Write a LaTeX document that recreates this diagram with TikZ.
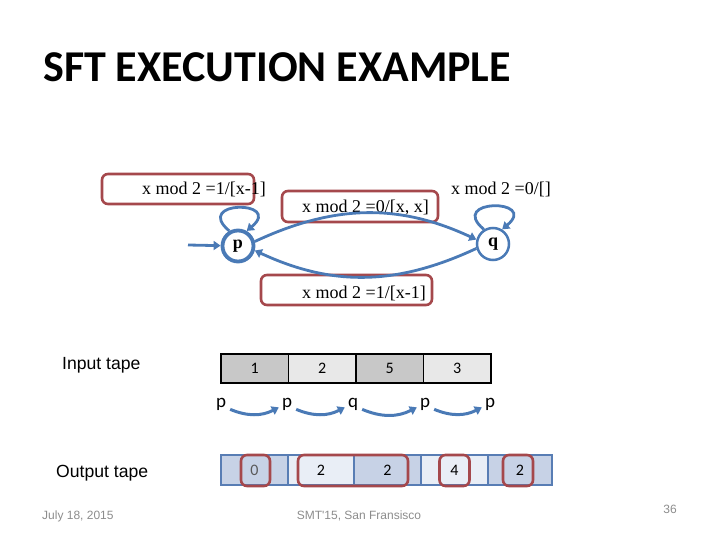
\documentclass[tikz,border=0pt]{standalone}
\usepackage{fontspec}
\setmainfont{Liberation Serif}
\newfontfamily\calib{Carlito}
\newfontfamily\arialf{Liberation Sans}
\usetikzlibrary{arrows.meta}
\definecolor{tblue}{RGB}{74,122,182}
\definecolor{tred}{RGB}{165,72,76}
\definecolor{gdark}{RGB}{200,200,200}
\definecolor{glight}{RGB}{232,232,232}
\definecolor{bdark}{RGB}{199,210,230}
\definecolor{blight}{RGB}{233,238,246}
\definecolor{bborder}{RGB}{88,125,180}
\definecolor{footgray}{RGB}{140,140,140}
\tikzset{
  redbox/.style={draw=tred, line width=2.6pt, rounded corners=6pt, inner sep=0pt},
  lbl/.style={anchor=base west, inner sep=0pt, font=\fontsize{18}{20}\selectfont},
  state/.style={circle, draw=tblue, line width=2.5pt, minimum size=31pt, inner sep=0pt, font=\bfseries\fontsize{18}{20}\selectfont},
  edge/.style={draw=tblue, line width=2.8pt, -{Triangle[width=9pt,length=7pt]}},
  incell/.style={draw=black, line width=1.4pt, minimum width=67.5pt, minimum height=29pt, inner sep=0pt, font=\calib\fontsize{16}{18}\selectfont},
  outcell/.style={draw=bborder, line width=1.6pt, minimum height=30pt, inner sep=0pt, font=\calib\fontsize{16}{18}\selectfont},
  stl/.style={inner sep=1pt, font=\calib\fontsize{19}{21}\selectfont},
  tarrow/.style={draw=tblue, line width=3pt, -{Triangle[width=9pt,length=7pt]}},
  side/.style={anchor=base west, inner sep=0pt, font=\arialf\fontsize{17.6}{20}\selectfont},
  foot/.style={inner sep=0pt, text=footgray, font=\arialf\fontsize{12}{14}\selectfont}
}
\begin{document}
\begin{tikzpicture}[x=1pt,y=1pt]
\useasboundingbox (0,0) rectangle (720,-540);
% title
\node[anchor=base west, inner sep=0pt, font=\calib\bfseries\fontsize{44}{48}\selectfont] (title) at (43,-82) {SFT EXECUTION EXAMPLE};
% label boxes
\node[redbox, minimum width=152pt, minimum height=30pt] (b1) at (178,-189) {};
\node[redbox, minimum width=156pt, minimum height=31pt] (b2) at (360,-206.5) {};
\node[redbox, minimum width=171pt, minimum height=30pt] (b3) at (346.5,-290) {};
\node[lbl] (l1) at (142,-195) {x mod 2 =1/[x-1]};
\node[lbl] (l2) at (302,-213) {x mod 2 =0/[x, x]};
\node[lbl] (l3) at (302,-298) {x mod 2 =1/[x-1]};
\node[lbl] (l4) at (451,-195) {x mod 2 =0/[]};
% states
\node[state, line width=3.8pt, minimum size=31pt] (p) at (238,-246) {p};
\node[state, minimum size=32pt] (q) at (493,-244) {q};
\coordinate (init) at (188,-245);
\draw[edge] (init) -- (p);
\draw[edge] (p.15) to[out=25,in=155] (q.165);
\draw[edge] (q.195) to[out=205,in=335] (p.345);
\draw[edge] (p.120) .. controls +(140:48) and +(40:48) .. (p.60);
\draw[edge] (q.122) .. controls +(140:48) and +(40:48) .. (q.58);
% input tape
\node[side] (intape) at (62,-369) {Input tape};
\node[incell, fill=gdark] (i1) at (254.75,-368.5) {1};
\node[incell, fill=glight] (i2) at (322.25,-368.5) {2};
\node[incell, fill=gdark] (i3) at (389.75,-368.5) {5};
\node[incell, fill=glight] (i4) at (457.25,-368.5) {3};
% state sequence
\node[stl] (s1) at (221,-404) {p};
\node[stl] (s2) at (287,-404) {p};
\node[stl] (s3) at (353,-404) {q};
\node[stl] (s4) at (425,-404) {p};
\node[stl] (s5) at (490,-404) {p};
\draw[tarrow] ([xshift=3pt,yshift=2pt]s1.south east) to[bend right=25] ([xshift=-2pt,yshift=4pt]s2.south west);
\draw[tarrow] ([xshift=3pt,yshift=2pt]s2.south east) to[bend right=25] ([xshift=-2pt,yshift=4pt]s3.south west);
\draw[tarrow] ([xshift=3pt,yshift=2pt]s3.south east) to[bend right=25] ([xshift=-2pt,yshift=4pt]s4.south west);
\draw[tarrow] ([xshift=3pt,yshift=2pt]s4.south east) to[bend right=25] ([xshift=-2pt,yshift=4pt]s5.south west);
% output tape
\node[side] (outtape) at (56,-477) {Output tape};
\node[outcell, fill=bdark, minimum width=67pt] (o1) at (254.5,-470) {\textcolor{black!65}{0}};
\node[outcell, fill=blight, minimum width=66pt] (o2) at (321,-470) {2};
\node[outcell, fill=bdark, minimum width=67pt] (o3) at (387.5,-470) {2};
\node[outcell, fill=blight, minimum width=67pt] (o4) at (454.5,-470) {4};
\node[outcell, fill=bdark, minimum width=64pt] (o5) at (520,-470) {2};
\node[redbox, minimum width=29pt, minimum height=31pt] (r1) at (255.5,-470.5) {};
\node[redbox, minimum width=110pt, minimum height=31pt] (r2) at (353,-470.5) {};
\node[redbox, minimum width=30pt, minimum height=31pt] (r3) at (454.5,-470.5) {};
\node[redbox, minimum width=30pt, minimum height=31pt] (r4) at (518,-470.5) {};
% footer
\node[foot, anchor=base west] (date) at (42,-519) {July 18, 2015};
\node[foot, anchor=base] (conf) at (359,-519) {SMT'15, San Fransisco};
\node[foot, anchor=base] (num) at (670,-513) {36};
\end{tikzpicture}
\end{document}
